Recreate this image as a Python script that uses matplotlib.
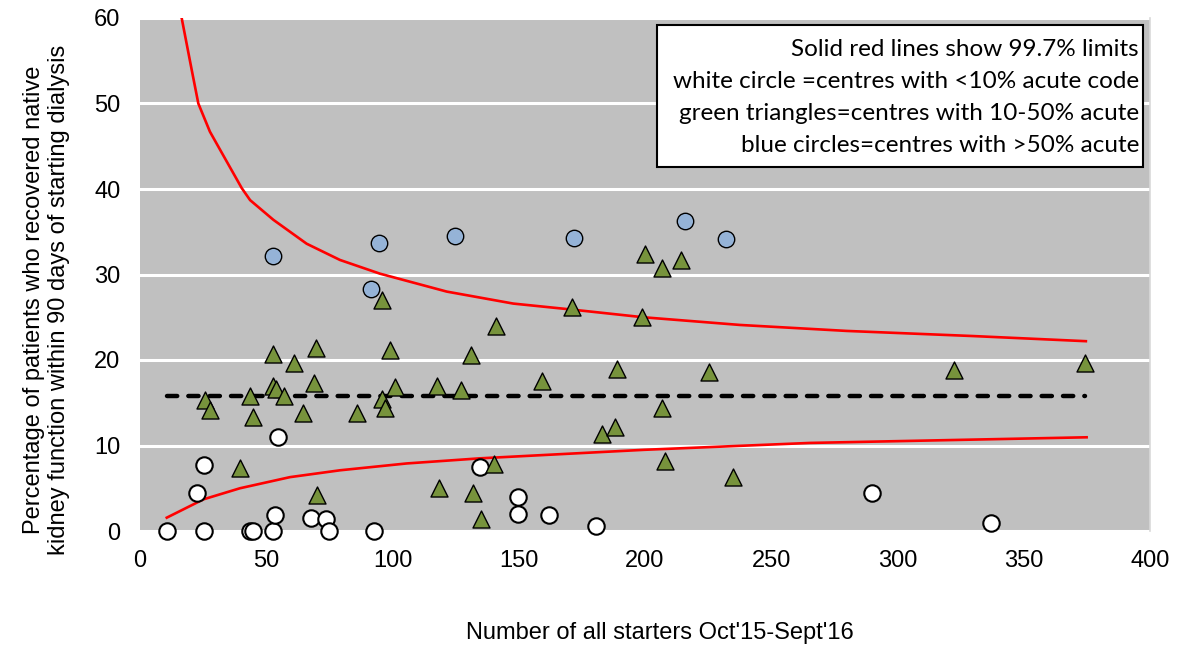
import matplotlib
matplotlib.use("Agg")
import matplotlib.pyplot as plt

# ---------------- data ----------------
white_x = [10.6, 22.6, 25.3, 25.3, 43.6, 44.8, 52.5, 53.6, 54.8, 67.7, 73.7, 74.7,
           92.8, 134.7, 149.7, 149.7, 161.8, 180.7, 290.0, 337.0]
white_y = [0.0, 4.4, 7.7, 0.0, 0.0, 0.0, 0.0, 1.9, 11.0, 1.5, 1.4, 0.0,
           0.0, 7.5, 4.0, 2.0, 1.9, 0.6, 4.5, 0.9]

green_x = [25.7, 27.7, 39.7, 43.7, 44.9, 52.8, 52.8, 53.9, 56.9, 60.9, 64.7, 68.9,
           69.8, 70.0, 85.8, 96.0, 96.0, 97.0, 98.9, 100.9, 117.8, 118.5, 127.0,
           131.0, 132.0, 135.0, 140.2, 141.0, 159.1, 171.1, 183.0, 188.0, 189.0,
           198.9, 200.1, 206.9, 206.9, 208.0, 214.3, 225.2, 235.0, 322.5, 374.4]
green_y = [15.3, 14.2, 7.4, 15.8, 13.3, 20.7, 17.0, 16.6, 15.8, 19.6, 13.8, 17.3,
           21.4, 4.2, 13.8, 27.0, 15.4, 14.4, 21.2, 16.8, 17.0, 5.0, 16.5,
           20.6, 4.5, 1.4, 7.8, 24.0, 17.5, 26.2, 11.4, 12.2, 19.0,
           25.0, 32.4, 30.8, 14.4, 8.2, 31.7, 18.6, 6.3, 18.8, 19.7]

blue_x = [52.5, 91.6, 94.7, 124.6, 171.8, 215.8, 232.0]
blue_y = [32.2, 28.3, 33.7, 34.5, 34.3, 36.2, 34.1]

mean_x = [10.6, 374.4]
mean_y = [15.8, 15.8]

ucl_x = [16.5, 20.5, 23.1, 27.7, 31.7, 40.3, 43.6, 52.8, 66.0, 79.2, 95.0, 121.5,
         147.8, 171.0, 199.3, 237.6, 279.9, 330.0, 374.6]
ucl_y = [60.0, 53.9, 50.0, 46.7, 44.6, 40.1, 38.7, 36.4, 33.6, 31.7, 30.1, 28.0,
         26.6, 25.9, 25.0, 24.1, 23.4, 22.8, 22.2]

lcl_x = [10.6, 25.1, 39.6, 59.4, 79.2, 105.6, 134.7, 200.0, 265.3, 374.9]
lcl_y = [1.56, 3.7, 5.0, 6.3, 7.1, 7.9, 8.5, 9.5, 10.3, 10.96]

note_lines = ["Solid red lines show 99.7% limits",
              "white circle =centres with <10% acute code",
              "green triangles=centres with 10-50% acute",
              "blue circles=centres with >50% acute"]

xlabel = "Number of all starters Oct'15-Sept'16"
ylabel = "Percentage of patients who recovered native\nkidney function within 90 days of starting dialysis"

# ---------------- figure ----------------
plt.rcParams['font.family'] = ['Liberation Sans', 'DejaVu Sans']
fig = plt.figure(figsize=(11.8, 6.47), dpi=100)
ax = fig.add_axes([140/1180, 1-531/647, 1010/1180, 513/647])
ax.set_facecolor('#C0C0C0')
ax.set_xlim(0, 400)
ax.set_ylim(0, 60)
ax.set_xticks(range(0, 401, 50))
ax.set_yticks(range(0, 61, 10))
ax.yaxis.grid(True, color='white', linewidth=2.2)
ax.set_axisbelow(True)
for s in ['top', 'left', 'bottom']:
    ax.spines[s].set_visible(False)
ax.spines['right'].set_color('#D9D9D9')
ax.spines['right'].set_linewidth(1.2)
ax.tick_params(axis='both', length=0, labelsize=17, colors='black')
ax.tick_params(axis='x', pad=14)
ax.tick_params(axis='y', pad=14)

ax.plot(ucl_x, ucl_y, color='#FF0000', linewidth=1.9, zorder=3)
ax.plot(lcl_x, lcl_y, color='#FF0000', linewidth=1.9, zorder=3)
ln, = ax.plot(mean_x, mean_y, color='black', linewidth=3.2, zorder=3,
              dash_capstyle='round')
ln.set_dashes((2.3, 2.5))

ax.scatter(white_x, white_y, s=140, marker='o', facecolor='white',
           edgecolor='black', linewidth=1.5, zorder=4, clip_on=False)
ax.scatter(green_x, green_y, s=150, marker='^', facecolor='#77933C',
           edgecolor='black', linewidth=1.0, zorder=4, clip_on=False)
ax.scatter(blue_x, blue_y, s=140, marker='o', facecolor='#95B3D7',
           edgecolor='black', linewidth=1.0, zorder=4, clip_on=False)

ax.set_xlabel(xlabel, fontsize=17)
ax.xaxis.set_label_coords((660-140)/1010, (531-622)/513)
ax.set_ylabel(ylabel, fontsize=17, linespacing=1.15)
ax.yaxis.set_label_coords((70-140)/1010, (531-300)/513)

# note box
box = plt.Rectangle((657/1180, 1-167/647), (1143-657)/1180, (167-25)/647,
                    transform=fig.transFigure, facecolor='white', edgecolor='black',
                    linewidth=1.5, zorder=5)
fig.patches.append(box)
ys = [49, 81, 113, 146]
for t, yy in zip(note_lines, ys):
    fig.text(1139/1180, 1-yy/647, t, ha='right', va='center', fontsize=17.5,
             family=['Lato', 'DejaVu Sans'], zorder=6)

fig.savefig('out.png', dpi=100)
